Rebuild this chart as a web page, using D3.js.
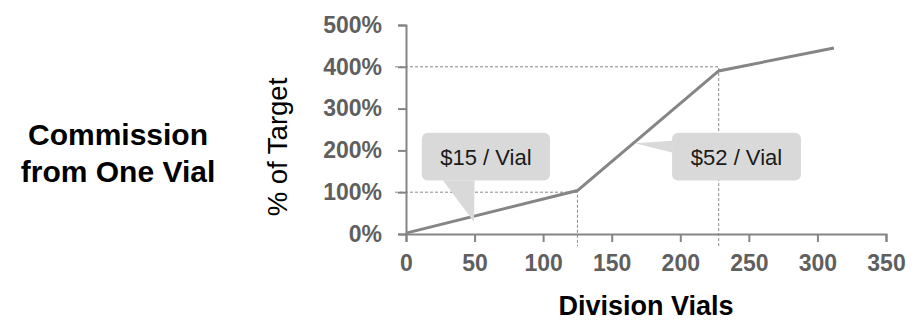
<!DOCTYPE html>
<html>
<head>
<meta charset="utf-8">
<script src="https://cdn.jsdelivr.net/npm/d3@7"></script>
<style>
  body { margin: 0; background: #fff; }
  svg { display: block; font-family: Arial, "Liberation Sans", sans-serif; }
  .tick text { font-weight: bold; font-size: 23px; fill: #5f5f5f; }
  .tick line, .domain { stroke: #858585; stroke-width: 2; }
</style>
</head>
<body>
<svg id="chart" width="922" height="321"></svg>
<script>
const width = 922;
const height = 321;

// commission curve (division vials -> % of target)
const vials = [0, 125, 228, 312];
const pctTarget = [2, 104, 390, 445];

const xTicks = [0, 50, 100, 150, 200, 250, 300, 350];
const yTicks = [0, 100, 200, 300, 400, 500];

// dashed reference lines: [vials, % of target]
const guideVials = [125, 228];
const guidePct = [100, 400];

// callouts, in data units
const calloutText = ["$15 / Vial", "$52 / Vial"];
const calloutBox = [[11.5, 105, 242, 128], [194, 288, 242, 128]]; // x0, x1, yTop, yBottom
const calloutTip = [[49.6, 29], [167, 217]];
const calloutBase = [[[27, 128], [50, 128]], [[194, 223], [194, 195]]];

const x_left = 406;
const x_right = 886;
const y_top = 25;
const y_bottom = 234;

const svg = d3.select("#chart");

const x = d3.scaleLinear().domain([0, 350]).range([x_left, x_right]);
const y = d3.scaleLinear().domain([0, 500]).range([y_bottom, y_top]);

// guides
guideVials.forEach((v, i) => {
    svg.append("path")
        .attr("d", "M" + (x_left - 11) + "," + y(guidePct[i])
            + " H" + x(v) + " V" + (y_bottom + 12))
        .attr("fill", "none")
        .attr("stroke", "#7a7a7a")
        .attr("stroke-width", 0.9)
        .attr("stroke-dasharray", "3,2");
});

// axes
svg.append("g")
    .attr("transform", "translate(0," + y_bottom + ")")
    .call(d3.axisBottom(x).tickValues(xTicks).tickSize(8).tickPadding(13))
    .call(g => g.selectAll("text").attr("dy", "0.71em"));

svg.append("g")
    .attr("transform", "translate(" + x_left + ",0)")
    .call(d3.axisLeft(y).tickValues(yTicks).tickSize(8).tickPadding(16)
        .tickFormat(d => d + "%"));

// line
svg.append("path")
    .datum(vials.map((v, i) => [v, pctTarget[i]]))
    .attr("d", d3.line().x(d => x(d[0])).y(d => y(d[1])))
    .attr("fill", "none")
    .attr("stroke", "#858585")
    .attr("stroke-width", 3);

// callouts
calloutText.forEach((t, i) => {
    const b = calloutBox[i];
    svg.append("polygon")
        .attr("points", [calloutBase[i][0], calloutTip[i], calloutBase[i][1]]
            .map(p => x(p[0]) + "," + y(p[1])).join(" "))
        .attr("fill", "#d9d9d9");
    svg.append("rect")
        .attr("x", x(b[0]))
        .attr("y", y(b[2]))
        .attr("width", x(b[1]) - x(b[0]))
        .attr("height", y(b[3]) - y(b[2]))
        .attr("rx", 6)
        .attr("fill", "#d9d9d9");
    svg.append("text")
        .attr("x", (x(b[0]) + x(b[1])) / 2)
        .attr("y", (y(b[2]) + y(b[3])) / 2 + 8)
        .attr("text-anchor", "middle")
        .style("font-size", "22px")
        .style("fill", "#1a1a1a")
        .text(t);
});

// titles
svg.append("text")
    .attr("x", 646)
    .attr("y", 315)
    .attr("text-anchor", "middle")
    .style("font-size", "27px")
    .style("font-weight", "bold")
    .text("Division Vials");

svg.append("text")
    .attr("transform", "translate(287,147) rotate(-90)")
    .attr("text-anchor", "middle")
    .style("font-size", "27.5px")
    .text("% of Target");

svg.append("text")
    .attr("x", 118)
    .attr("y", 145)
    .attr("text-anchor", "middle")
    .style("font-size", "30px")
    .style("font-weight", "bold")
    .text("Commission");

svg.append("text")
    .attr("x", 118)
    .attr("y", 182)
    .attr("text-anchor", "middle")
    .style("font-size", "30px")
    .style("font-weight", "bold")
    .text("from One Vial");
</script>
</body>
</html>
